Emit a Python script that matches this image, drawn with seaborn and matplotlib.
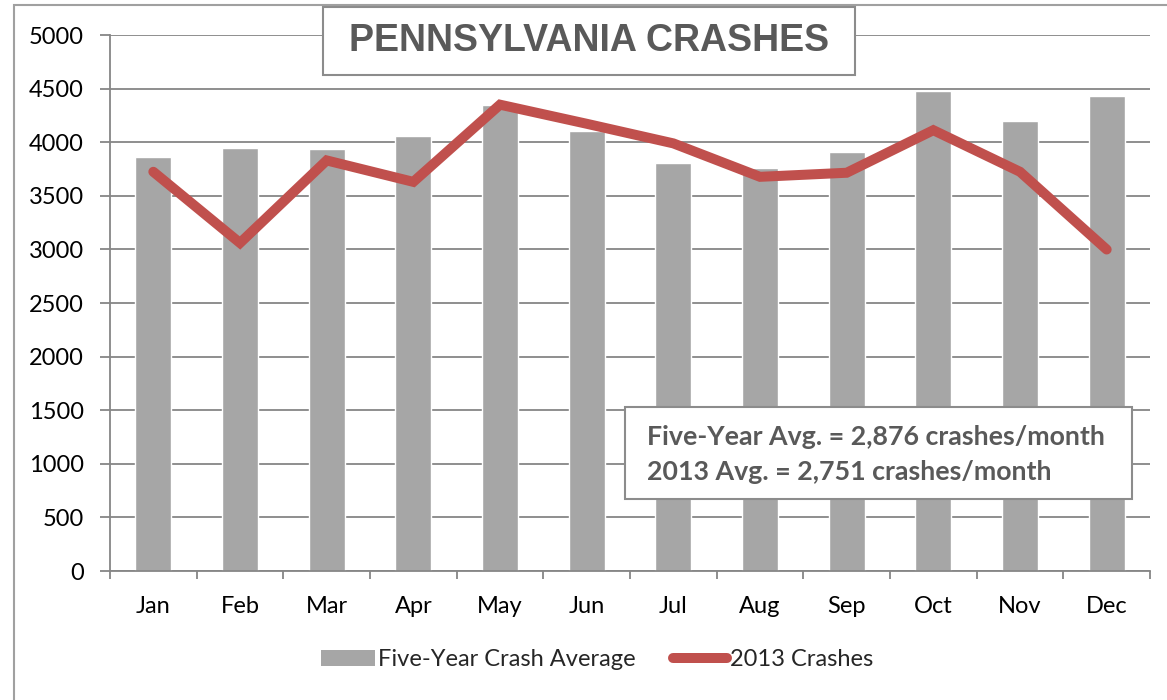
import numpy as np
import pandas as pd
import matplotlib
matplotlib.use("Agg")
import matplotlib.pyplot as plt
from matplotlib.patches import Rectangle, Patch
from matplotlib.lines import Line2D
from matplotlib.ticker import MultipleLocator, FixedLocator
import seaborn as sns

# Monthly crash counts
months = ["Jan", "Feb", "Mar", "Apr", "May", "Jun",
          "Jul", "Aug", "Sep", "Oct", "Nov", "Dec"]
five_year_avg = [3860, 3950, 3940, 4060, 4345, 4108,
                 3810, 3760, 3910, 4475, 4195, 4428]
crashes_2013 = [3724, 3060, 3830, 3630, 4350, 4172,
                3989, 3677, 3715, 4112, 3724, 2999]

title_text = "PENNSYLVANIA CRASHES"
note_lines = ["Five-Year Avg. = 2,876 crashes/month",
              "2013 Avg. = 2,751 crashes/month"]
bar_label = "Five-Year Crash Average"
line_label = "2013 Crashes"

BAR = "#A6A6A6"
RED = "#C0504D"
GRID = "#868686"
TEXT_GRAY = "#595959"

sns.set_theme(style="white")
plt.rcParams["font.family"] = ["Lato", "DejaVu Sans"]

W, H = 1167, 700
fig = plt.figure(figsize=(W / 100, H / 100), dpi=100)
ax = fig.add_axes([110 / W, 1 - 571 / H, 1040 / W, 536 / H])

df = pd.DataFrame({"month": months, "avg": five_year_avg, "y2013": crashes_2013})

sns.barplot(data=df, x="month", y="avg", color=BAR, width=0.415,
            saturation=1, ax=ax, zorder=2)
sns.lineplot(x=np.arange(len(months)), y=df["y2013"], color=RED, lw=7.2,
             ax=ax, zorder=3, solid_capstyle="round", solid_joinstyle="miter")

ax.set_xlim(-0.5, len(months) - 0.5)
ax.set_ylim(0, 5000)
ax.yaxis.set_major_locator(MultipleLocator(500))
ax.grid(axis="y", color=GRID, lw=1.3, zorder=0)
ax.set_axisbelow(True)
ax.set_xlabel("")
ax.set_ylabel("")

for side in ["top", "right"]:
    ax.spines[side].set_visible(False)
for side in ["left", "bottom"]:
    ax.spines[side].set_color(GRID)
    ax.spines[side].set_linewidth(1.3)

# category labels centred under bars, tick marks on the boundaries
ax.set_xticks(np.arange(len(months)))
ax.set_xticklabels(months)
ax.xaxis.set_minor_locator(FixedLocator(np.arange(len(months) + 1) - 0.5))
ax.tick_params(axis="x", which="major", length=0, pad=18, labelsize=17,
               labelcolor="black")
ax.tick_params(axis="x", which="minor", length=6, width=1.3, color=GRID,
               bottom=True)
ax.tick_params(axis="y", length=7, width=1.3, color=GRID, left=True, pad=12,
               labelsize=17, labelcolor="black")

# title box
fig.add_artist(Rectangle((323 / W, 1 - 75 / H), 532 / W, 68 / H,
                         transform=fig.transFigure, fill=True, facecolor="white",
                         edgecolor="#8C8C8C", lw=1.5, zorder=5))
fig.text(589 / W, 1 - 41 / H, title_text, ha="center", va="center",
         fontsize=27, fontweight="bold", color=TEXT_GRAY,
         family=["Liberation Sans", "DejaVu Sans"], zorder=6)

# averages note box
fig.add_artist(Rectangle((625 / W, 1 - 499 / H), 507 / W, 92 / H,
                         transform=fig.transFigure, facecolor="white",
                         edgecolor="#8C8C8C", lw=1.5, zorder=5))
for i, line in enumerate(note_lines):
    fig.text(647 / W, 1 - (437 + 35 * i) / H, line, ha="left", va="center",
             fontsize=19.3, fontweight="bold", color=TEXT_GRAY, zorder=6)

# outer chart border
fig.add_artist(Rectangle((14 / W, -0.05), 1.2, 1 - 5 / H + 0.05,
                         transform=fig.transFigure, fill=False,
                         edgecolor="#A0A0A0", lw=1.5, zorder=1))

handles = [Patch(facecolor=BAR, edgecolor="none"),
           Line2D([0], [0], color=RED, lw=7.2, solid_capstyle="round")]
fig.legend(handles, [bar_label, line_label], loc="center",
           bbox_to_anchor=(597 / W, 1 - 660 / H), ncol=2, frameon=False,
           fontsize=17, handlelength=2.3, handleheight=0.68,
           handletextpad=0.1, columnspacing=1.6)

fig.savefig("out.png", dpi=100)
